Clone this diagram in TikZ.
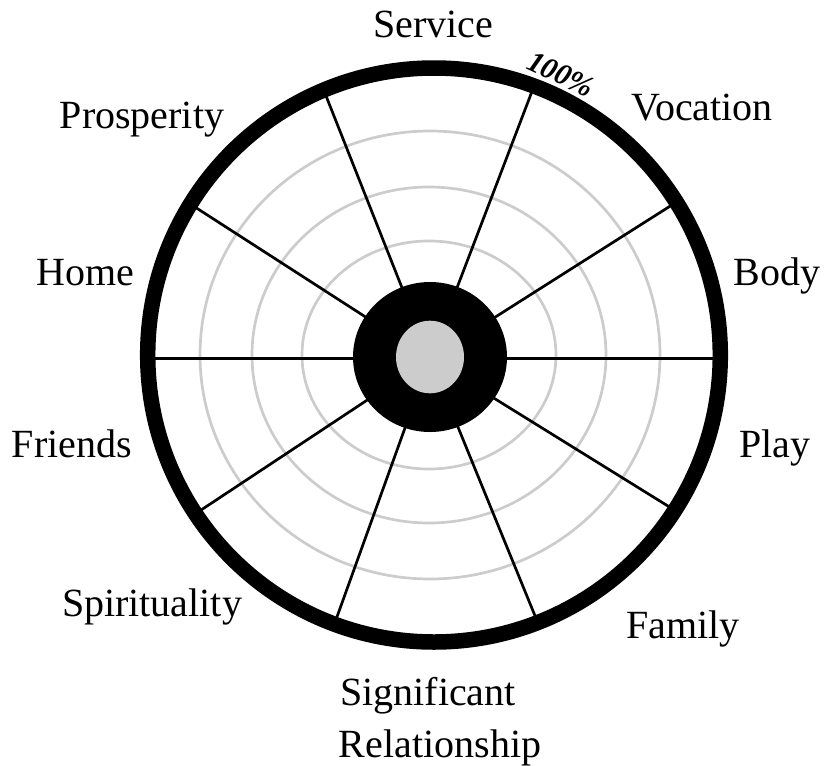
\documentclass[tikz,border=0pt]{standalone}
\usepackage{fontspec}
\setmainfont{Liberation Serif}
\usetikzlibrary{shapes.geometric}
\tikzset{
  lbl/.style={font=\fontsize{40}{46}\selectfont, anchor=base, inner sep=0pt},
  grid/.style={draw=black!20, line width=2.7pt},
  spoke/.style={draw=black, line width=2.7pt},
}
\begin{document}
\begin{tikzpicture}[x=1pt,y=-1pt]
\useasboundingbox (0,0) rectangle (825,766);
% gray rings
\draw[grid] (429,355) ellipse [x radius=127, y radius=114];
\draw[grid] (429,355) ellipse [x radius=177, y radius=168];
\draw[grid] (430,355) ellipse [x radius=230, y radius=224];
% spokes (clipped to the outer ring)
\coordinate (c) at (430,358.5);
\begin{scope}
\clip (434,355) ellipse [x radius=286.3, y radius=287];
\foreach \a in {0,-32.4,-69.1,-111.6,-147.2,-180,-213.5,-250.2,-292.2,-328.2}{
  \draw[spoke] (c) -- ++(\a:320);
}
\end{scope}
% center
\fill[black] (430,357) ellipse [x radius=77, y radius=75];
\node[ellipse, minimum width=68pt, minimum height=72.6pt, fill=black!20, inner sep=0pt] (hub) at (430,357) {};
% outer ring
\draw[line width=15.5pt] (434,355) ellipse [x radius=286.3, y radius=287];
% labels
\node[lbl] (service) at (433,37) {Service};
\node[lbl] (vocation) at (702,120) {Vocation};
\node[lbl] (prosperity) at (142,128) {Prosperity};
\node[lbl] (body) at (777,285) {Body};
\node[lbl] (home) at (85,285) {Home};
\node[lbl] (friends) at (72,457) {Friends};
\node[lbl] (play) at (775,457) {Play};
\node[lbl] (spirit) at (152,616) {Spirituality};
\node[lbl] (family) at (683,638) {Family};
\node[lbl] (sig1) at (428,705) {Significant};
\node[lbl] (sig2) at (440,757) {Relationship};
\node[font=\fontsize{30}{34}\selectfont\bfseries\itshape, rotate=-25, inner sep=0pt] (pct) at (561,74) {100\%};
\end{tikzpicture}
\end{document}
